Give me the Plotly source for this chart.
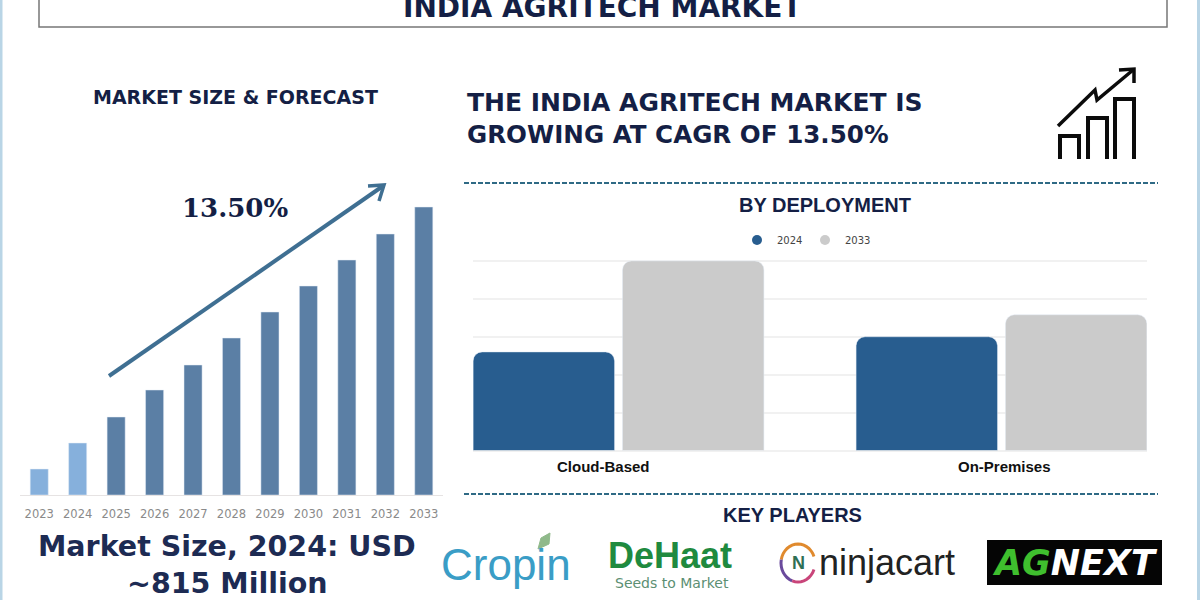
import math
import plotly.graph_objects as go

W, H = 1200, 600

# market size bars (no value axis in the picture, read as relative heights)
years = ["2023", "2024", "2025", "2026", "2027", "2028", "2029", "2030", "2031", "2032", "2033"]
market_size = [26, 52, 78, 105, 130, 157, 183, 209, 235, 261, 288]
year_colors = ["#86b0dc", "#86b0dc"] + ["#5b7fa5"] * 9

# deployment bars
deployments = ["Cloud-Based", "On-Premises"]
deploy_2024 = [2.6, 3.0]
deploy_2033 = [5.0, 3.58]
NAVY = "#141f45"


def px_x(x):
    return x / W


def px_y(y):
    return 1 - y / H


def dom_x(a, b):
    return [a / W, b / W]


def dom_y(top, bottom):
    return [1 - bottom / H, 1 - top / H]


def label(text, x, y, size, color=NAVY, family="DejaVu Sans", anchor="center"):
    fig.add_annotation(text=text, x=px_x(x), y=px_y(y), xref="paper", yref="paper", showarrow=False,
                       xanchor=anchor, yanchor="middle", font=dict(size=size, color=color, family=family))


def line(x0, y0, x1, y1, color, width, dash="solid"):
    fig.add_shape(type="line", xref="paper", yref="paper", x0=px_x(x0), y0=px_y(y0), x1=px_x(x1), y1=px_y(y1),
                  line=dict(color=color, width=width, dash=dash))


def polyline(points, color, width, fill=None, close=False):
    path = "M " + " L ".join(f"{px_x(a):.5f},{px_y(b):.5f}" for a, b in points) + (" Z" if close else "")
    fig.add_shape(type="path", xref="paper", yref="paper", path=path,
                  line=dict(color=color, width=width), fillcolor=fill)


def ring_arc(cx, cy, rx, ry, start, end, color, width):
    pts = [(cx + rx * math.cos(math.radians(a)), cy - ry * math.sin(math.radians(a)))
           for a in range(start, end + 1, 10)]
    polyline(pts, color, width)


fig = go.Figure()

fig.add_trace(go.Bar(x=years, y=market_size, marker=dict(color=year_colors), width=0.47,
                     xaxis="x", yaxis="y", showlegend=False))
fig.add_trace(go.Bar(x=deployments, y=deploy_2024, marker=dict(color="#285d8f", cornerradius=9),
                     xaxis="x2", yaxis="y2", showlegend=False, offsetgroup="a"))
fig.add_trace(go.Bar(x=deployments, y=deploy_2033, marker=dict(color="#cbcbcb", cornerradius=9),
                     xaxis="x2", yaxis="y2", showlegend=False, offsetgroup="b"))

# round legend keys
fig.add_trace(go.Scatter(x=[None], y=[None], mode="markers", name="2024", xaxis="x2", yaxis="y2",
                         marker=dict(color="#285d8f", size=10)))
fig.add_trace(go.Scatter(x=[None], y=[None], mode="markers", name="2033", xaxis="x2", yaxis="y2",
                         marker=dict(color="#cbcbcb", size=10)))

fig.update_layout(
    width=W, height=H, margin=dict(l=0, r=0, t=0, b=0),
    paper_bgcolor="white", plot_bgcolor="white",
    barmode="group", bargap=0.22, bargroupgap=0.053,
    xaxis=dict(domain=dom_x(20, 443), type="category", range=[-0.5, 10.5], showgrid=False,
               showline=True, linecolor="#e6e3e3", linewidth=1, ticks="outside", ticklen=8, tickcolor="white",
               anchor="y", tickfont=dict(size=11.5, color="#8a8a8a", family="DejaVu Sans")),
    yaxis=dict(domain=dom_y(195, 495), range=[0, 300], visible=False, anchor="x"),
    xaxis2=dict(domain=dom_x(473, 1147), type="category", range=[-0.38, 1.38], showgrid=False,
                showticklabels=False, ticks="", anchor="y2"),
    # range runs a little past 5 so the top gridline is drawn
    yaxis2=dict(domain=dom_y(259, 450.5), range=[0, 5.05], showgrid=True, gridcolor="#f1f1f1", gridwidth=2,
                zeroline=True, zerolinecolor="#f1f1f1", zerolinewidth=2, showticklabels=False, ticks="",
                dtick=1, anchor="x2"),
    legend=dict(orientation="h", x=px_x(737), y=px_y(240), xanchor="left", yanchor="middle",
                font=dict(size=10, color="#444444", family="DejaVu Sans"), itemwidth=30,
                entrywidth=23, entrywidthmode="pixels", bgcolor="rgba(0,0,0,0)"),
)

# page edges and title box
line(1, 0, 1, 600, "#b9d5e6", 3)
line(1198.5, 0, 1198.5, 600, "#b9d5e6", 3)
fig.add_shape(type="rect", xref="paper", yref="paper", x0=px_x(39), y0=px_y(27), x1=px_x(1167), y1=px_y(-5),
              line=dict(color="#777777", width=1.5))
label("<b>INDIA AGRITECH MARKET</b>", 603, 8, 28)

# left panel text and growth arrow
label("<b>MARKET SIZE &amp; FORECAST</b>", 235, 97, 19)
label("<b>13.50%</b>", 235, 208, 26, family="DejaVu Serif")
line(109, 376, 383, 186, "#3f6f92", 4)
polyline([(368, 186), (384, 185), (379, 201)], "#3f6f92", 3.5)
label("<b>Market Size, 2024: USD</b>", 227, 546, 28.5, color="#1d2b53")
label("<b>~815 Million</b>", 227, 583, 28.5, color="#1d2b53")

# right panel headline
label("<b>THE INDIA AGRITECH MARKET IS</b>", 465, 102, 25, anchor="left")
label("<b>GROWING AT CAGR OF 13.50%</b>", 465, 134, 24.6, anchor="left")

# chart icon
for x0, x1, top in [(1060, 1079, 136), (1088, 1107, 118), (1115, 1134, 99)]:
    polyline([(x0, 159), (x0, top), (x1, top), (x1, 159)], "#0b0b0b", 4)
polyline([(1058, 126), (1095, 90), (1097, 100), (1133, 70)], "#0b0b0b", 3.5)
polyline([(1119, 70), (1134, 69), (1134, 83)], "#0b0b0b", 3.5)

# dashed separators
line(464, 183, 1158, 183, "#2f6a85", 2, "5px,2px")
line(464, 494, 1158, 494, "#2f6a85", 2, "5px,2px")

label("<b>BY DEPLOYMENT</b>", 825, 205, 20, family="Liberation Sans")
label("<b>KEY PLAYERS</b>", 792, 515, 20, family="Liberation Sans")

# category labels sit off the group centres in the original
fig.add_annotation(text="<b>Cloud-Based</b>", x=deployments[0], y=0, xref="x2", yref="y2", showarrow=False,
                   yanchor="top", xshift=-15, yshift=-5, font=dict(size=15, color="#111111", family="Liberation Sans"))
fig.add_annotation(text="<b>On-Premises</b>", x=deployments[1], y=0, xref="x2", yref="y2", showarrow=False,
                   yanchor="top", xshift=3, yshift=-5, font=dict(size=15, color="#111111", family="Liberation Sans"))

# logos rendered as text
label("Cropin", 506, 564, 44, color="#3a9dc6", family="Liberation Sans")
polyline([(538, 549), (541, 538), (550, 533), (549, 544)], "#8fb98a", 1, fill="#8fb98a", close=True)
label("<b>DeHaat</b>", 670, 555, 36, color="#1f8a3f", family="Liberation Sans")
label("Seeds to Market", 672, 583, 14, color="#5c8f73", family="DejaVu Sans")
ring_arc(798, 563, 17, 19, 20, 170, "#e08a2e", 3)
ring_arc(798, 563, 17, 19, 170, 250, "#6a4a9c", 3)
ring_arc(798, 563, 17, 19, 250, 340, "#c9457a", 3)
label("<b>N</b>", 798, 563, 18, color="#2f6f55", family="Liberation Sans")
label("ninjacart", 887, 562, 36, color="#222222", family="Liberation Sans")
fig.add_shape(type="rect", xref="paper", yref="paper", x0=px_x(987), y0=px_y(585), x1=px_x(1162), y1=px_y(540),
              fillcolor="#050505", line=dict(width=0))
label("<b><i><span style='color:#3fbf2e'>AG</span>NEXT</i></b>", 1075, 563, 35, color="white")

# default page margin would shift the fixed-size plot by 8px
fig.write_html("out.html", config=dict(displayModeBar=False), post_script="document.body.style.margin='0';")
